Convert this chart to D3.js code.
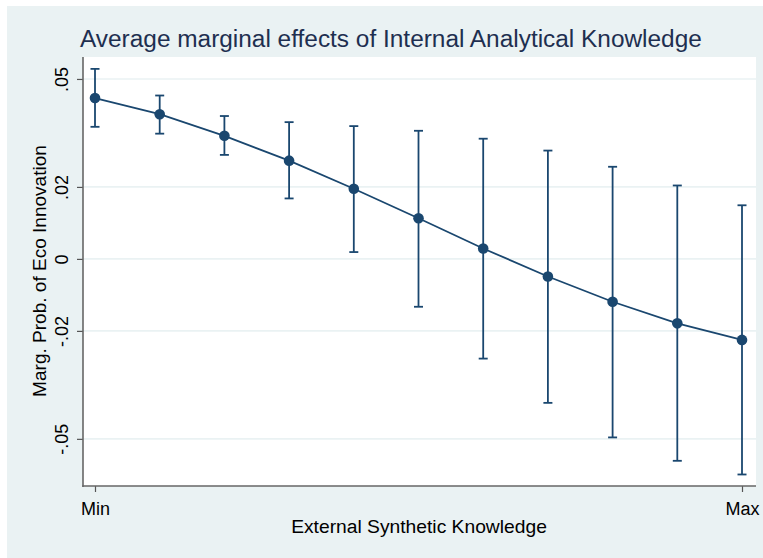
<!DOCTYPE html>
<html><head><meta charset="utf-8">
<script src="https://d3js.org/d3.v7.min.js"></script>
<style>html,body{margin:0;padding:0;background:#fff;}svg{display:block;}</style>
</head><body>
<script>
const points = [1,2,3,4,5,6,7,8,9,10,11];
const margins = [0.0447,0.0402,0.0342,0.0273,0.0195,0.0113,0.0029,-0.0049,-0.0119,-0.0179,-0.0225];
const ciLow  = [0.0367,0.0348,0.0289,0.0168,0.0019,-0.0133,-0.0277,-0.0400,-0.0496,-0.0561,-0.0599];
const ciHigh = [0.0528,0.0454,0.0397,0.0380,0.0369,0.0356,0.0334,0.0301,0.0256,0.0204,0.0149];
const yTicks = [0.05,0.02,0,-0.02,-0.05];
const yTickLabels = [".05",".02","0","-.02","-.05"];
const xTicks = [1,11];
const xTickLabels = ["Min","Max"];
const titleText = "Average marginal effects of Internal Analytical Knowledge";
const xTitle = "External Synthetic Knowledge";
const yTitle = "Marg. Prob. of Eco Innovation";

const W=763,H=558;
const navy="#1a476f";
const font="'Liberation Sans', Arial, Helvetica, sans-serif";
const svg=d3.select("body").append("svg").attr("width",W).attr("height",H);
svg.append("rect").attr("x",7).attr("y",6).attr("width",W-7).attr("height",H-6).attr("fill","rgb(234,242,243)");

const L=83,R=756,T=57,B=486;
svg.append("rect").attr("x",L).attr("y",T).attr("width",R-L).attr("height",B-T).attr("fill","#fff");

const x=d3.scaleLinear().domain([1,11]).range([95,742]);
const y=d3.scaleLinear().domain([-0.0631,0.0561]).range([B,T]);

// grid
svg.append("g").selectAll("line").data(yTicks).join("line")
  .attr("x1",L).attr("x2",R).attr("y1",d=>y(d)).attr("y2",d=>y(d))
  .attr("stroke","rgb(234,242,243)").attr("stroke-width",1.6);

// y axis
const yAxis=d3.axisLeft(y).tickValues(yTicks).tickFormat((d,i)=>yTickLabels[i]).tickSize(6).tickPadding(0);
const gy=svg.append("g").attr("transform",`translate(${L},0)`).call(yAxis);
gy.select(".domain").remove();
gy.selectAll(".tick line").attr("stroke","#555").attr("stroke-width",1.2);
gy.selectAll(".tick text").attr("transform",d=>`translate(-21,${0}) rotate(-90)`)
  .attr("x",0).attr("y",0).attr("dy","0.35em").attr("text-anchor","middle")
  .attr("font-family",font).attr("font-size",18).attr("fill","#000");
svg.append("line").attr("x1",L).attr("x2",L).attr("y1",T).attr("y2",B+1).attr("stroke","#666").attr("stroke-width",1.6);

// x axis
const xAxis=d3.axisBottom(x).tickValues(xTicks).tickFormat((d,i)=>xTickLabels[i]).tickSize(6).tickPadding(4);
const gx=svg.append("g").attr("transform",`translate(0,${B})`).call(xAxis);
gx.select(".domain").remove();
gx.selectAll(".tick line").attr("stroke","#555").attr("stroke-width",1.2);
gx.selectAll(".tick text").attr("dy",0).attr("y",29).attr("font-family",font).attr("font-size",18).attr("fill","#000");
svg.append("line").attr("x1",L-0.8).attr("x2",R).attr("y1",B).attr("y2",B).attr("stroke","#666").attr("stroke-width",1.6);

// error bars
const cap=4.5;
const eb=svg.append("g").attr("stroke",navy).attr("stroke-width",1.8).attr("fill","none");
points.forEach((p,i)=>{
  eb.append("line").attr("x1",x(p)).attr("x2",x(p)).attr("y1",y(ciLow[i])).attr("y2",y(ciHigh[i]));
  eb.append("line").attr("x1",x(p)-cap).attr("x2",x(p)+cap).attr("y1",y(ciLow[i])).attr("y2",y(ciLow[i]));
  eb.append("line").attr("x1",x(p)-cap).attr("x2",x(p)+cap).attr("y1",y(ciHigh[i])).attr("y2",y(ciHigh[i]));
});
// line
svg.append("path").datum(points.map((p,i)=>[p,margins[i]]))
  .attr("d",d3.line().x(d=>x(d[0])).y(d=>y(d[1])))
  .attr("fill","none").attr("stroke",navy).attr("stroke-width",1.8);
svg.append("g").selectAll("circle").data(points).join("circle")
  .attr("cx",d=>x(d)).attr("cy",(d,i)=>y(margins[i])).attr("r",5.3).attr("fill",navy);

// titles
const tt=svg.append("text").attr("x",80).attr("y",47).attr("font-family",font).attr("font-size",22).attr("fill","#1e2f50").text(titleText);
const tw=tt.node().getComputedTextLength();
tt.attr("font-size",22*622/tw);
const xt=svg.append("text").attr("x",419).attr("y",533).attr("text-anchor","middle").attr("font-family",font).attr("font-size",18).attr("fill","#000").text(xTitle);
const xw=xt.node().getComputedTextLength();
xt.attr("font-size",18*256/xw);
const yt=svg.append("text").attr("transform","translate(46,271) rotate(-90)").attr("text-anchor","middle").attr("font-family",font).attr("font-size",18).attr("fill","#000").text(yTitle);
const yw=yt.node().getComputedTextLength();
yt.attr("font-size",18*252/yw);
</script>
</body></html>
